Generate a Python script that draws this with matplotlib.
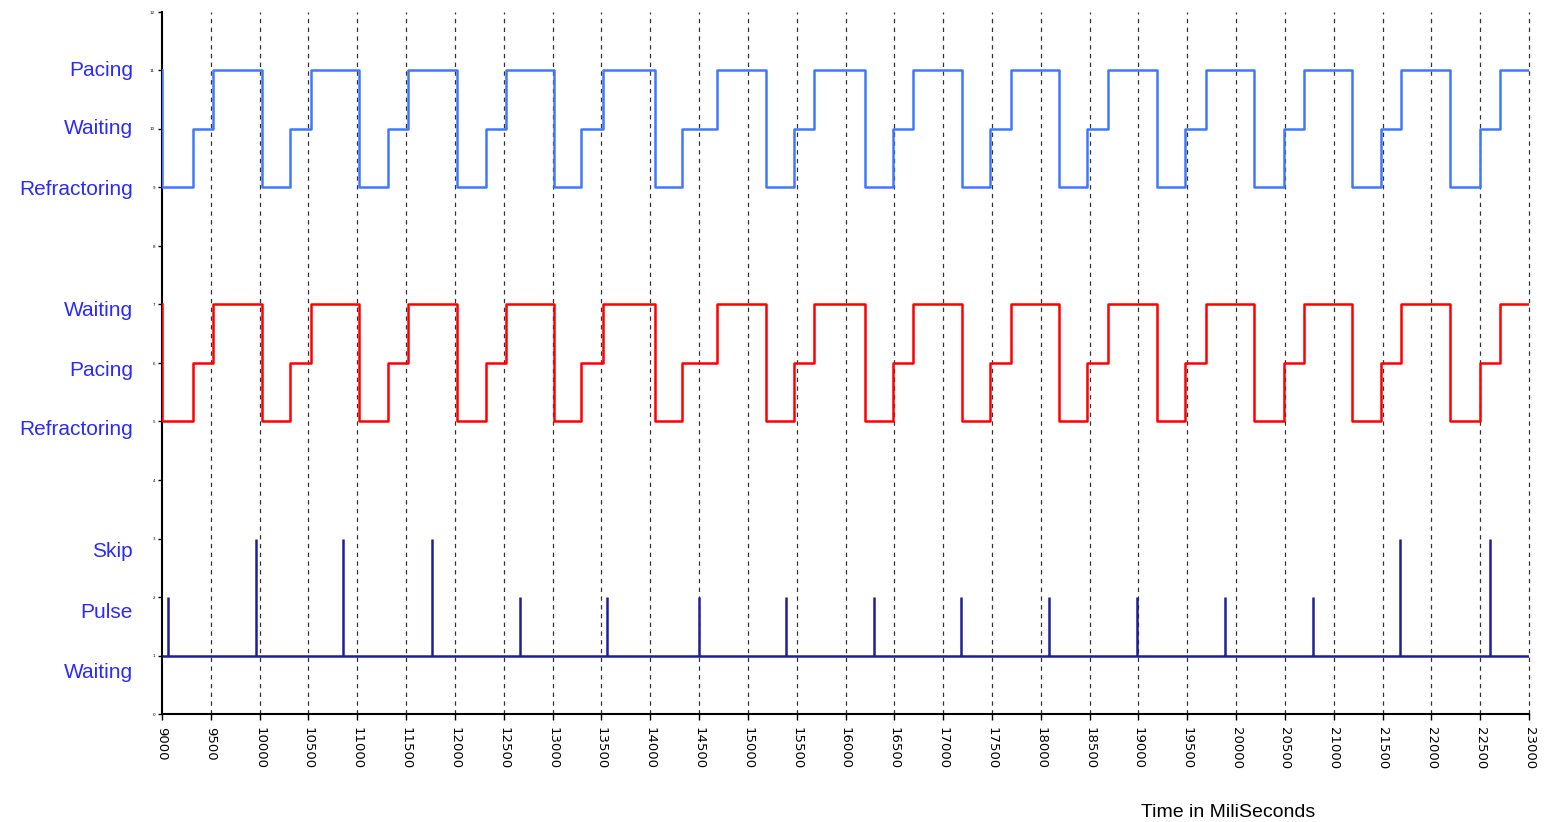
import matplotlib
matplotlib.use("Agg")
import matplotlib.pyplot as plt
import numpy as np

# время переходов (мс), общее для двух верхних графиков
step_times = [9000, 9000, 9318, 9525, 10020, 10314, 10523, 11022, 11314, 11522,
              12018, 12314, 12518, 13018, 13295, 13513, 14045, 14327, 14682,
              15182, 15470, 15682, 16195, 16491, 16695, 17195, 17482, 17695,
              18191, 18477, 18690, 19186, 19477, 19690, 20186, 20486, 20695,
              21191, 21486, 21691, 22195, 22500, 22705, 23000]
# верхний (синий): 9 = Refractoring, 10 = Waiting, 11 = Pacing
blue_levels = [11, 9, 10, 11, 9, 10, 11, 9, 10, 11,
               9, 10, 11, 9, 10, 11, 9, 10, 11,
               9, 10, 11, 9, 10, 11, 9, 10, 11,
               9, 10, 11, 9, 10, 11, 9, 10, 11,
               9, 10, 11, 9, 10, 11, 11]
# средний (красный): 5 = Refractoring, 6 = Pacing, 7 = Waiting
red_levels = [7, 5, 6, 7, 5, 6, 7, 5, 6, 7,
              5, 6, 7, 5, 6, 7, 5, 6, 7,
              5, 6, 7, 5, 6, 7, 5, 6, 7,
              5, 6, 7, 5, 6, 7, 5, 6, 7,
              5, 6, 7, 5, 6, 7, 7]
# нижний: импульсы, 1 = Waiting, 2 = Pulse, 3 = Skip
pulse_times = [9066, 9958, 10855, 11768, 12662, 13553, 14500, 15386,
               16295, 17186, 18082, 18985, 19886, 20791, 21682, 22605]
pulse_levels = [2, 3, 3, 3, 2, 2, 2, 2, 2, 2, 2, 2, 2, 2, 3, 3]
baseline = 1

state_labels = ["Pacing", "Waiting", "Refractoring",
                "Waiting", "Pacing", "Refractoring",
                "Skip", "Pulse", "Waiting"]
state_label_y = [11.0, 10.0, 8.97, 6.9, 5.88, 4.86, 2.78, 1.74, 0.71]

x_min, x_max, x_step = 9000, 23000, 500
y_min, y_max = 0, 12

fig = plt.figure(figsize=(15.45, 8.22), dpi=100)
ax = fig.add_axes([162 / 1545, 108 / 822, 1367 / 1545, 702 / 822])

xticks = np.arange(x_min, x_max + 1, x_step)
for xt in xticks[1:]:
    ax.axvline(xt, color="#333333", lw=0.9, ls=(0, (3.5, 3.5)), zorder=1,
               clip_on=False)

ax.step(step_times, blue_levels, where="post", color="#3f78ff", lw=1.8, zorder=3)
ax.step(step_times, red_levels, where="post", color="#ff0000", lw=1.8, zorder=3)

ax.hlines(baseline, x_min, x_max, color="#1f1f99", lw=1.8, zorder=3)
ax.vlines(pulse_times, baseline, pulse_levels, color="#1f1f99", lw=1.8, zorder=3)

ax.set_xlim(x_min, x_max)
ax.set_ylim(y_min, y_max)
ax.set_xticks(xticks)
ax.set_xticklabels([str(x) for x in xticks], rotation=-90, fontsize=9.5,
                   family="Liberation Sans Narrow")
ax.set_yticks(np.arange(y_min, y_max + 1))
ax.set_yticklabels([str(y) for y in range(y_min, y_max + 1)], fontsize=3)
ax.tick_params(axis="x", length=4, width=1, pad=5)
ax.tick_params(axis="y", length=3, width=1, pad=2)

for side in ("top", "right"):
    ax.spines[side].set_visible(False)
for side in ("left", "bottom"):
    ax.spines[side].set_linewidth(1.5)

for label, y in zip(state_labels, state_label_y):
    ax.annotate(label, xy=(0, y), xycoords=ax.get_yaxis_transform(),
                xytext=(-21, 0), textcoords="offset points",
                ha="right", va="center", color="#2a2aff",
                fontsize=15, family="Liberation Sans")

fig.text(0.795, 0.012, "Time in MiliSeconds", ha="center", va="center",
         fontsize=14, family="Liberation Sans")

fig.savefig("out.png", dpi=100)
